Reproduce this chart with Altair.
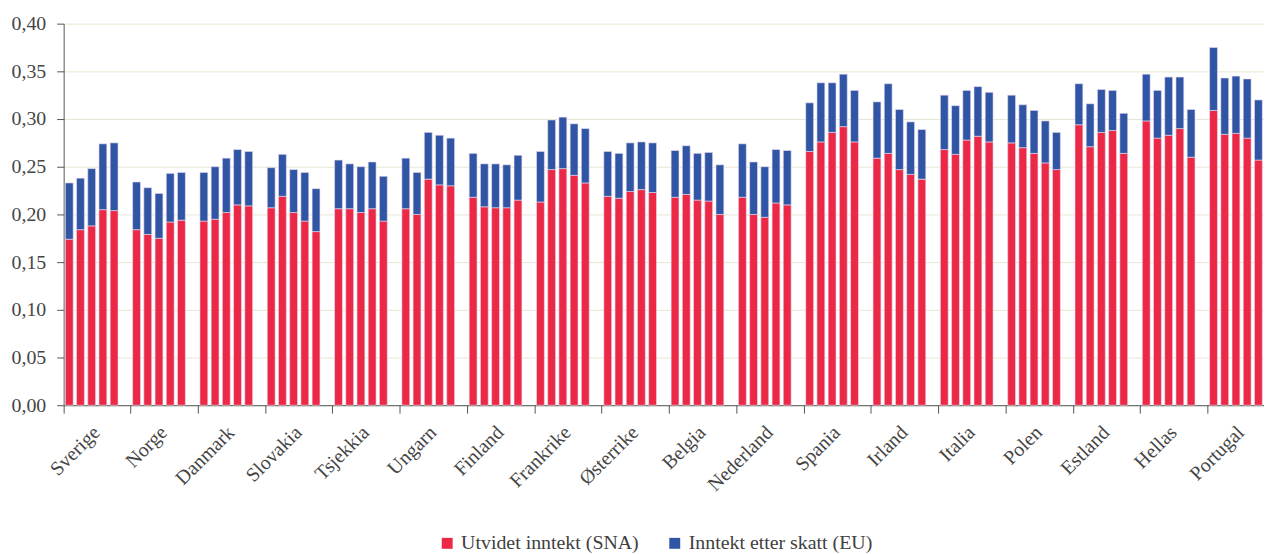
import altair as alt
import pandas as pd

countries = ["Sverige", "Norge", "Danmark", "Slovakia", "Tsjekkia", "Ungarn",
             "Finland", "Frankrike", "Østerrike", "Belgia", "Nederland", "Spania",
             "Irland", "Italia", "Polen", "Estland", "Hellas", "Portugal"]

# Utvidet inntekt (SNA) - red part (five observations per country)
sna_values = [
    [0.174, 0.184, 0.188, 0.205, 0.204],  # Sverige
    [0.184, 0.179, 0.175, 0.192, 0.194],  # Norge
    [0.193, 0.195, 0.202, 0.210, 0.209],  # Danmark
    [0.207, 0.219, 0.202, 0.193, 0.182],  # Slovakia
    [0.206, 0.206, 0.202, 0.206, 0.193],  # Tsjekkia
    [0.206, 0.200, 0.237, 0.231, 0.230],  # Ungarn
    [0.218, 0.208, 0.207, 0.207, 0.215],  # Finland
    [0.213, 0.247, 0.248, 0.241, 0.233],  # Frankrike
    [0.219, 0.217, 0.224, 0.226, 0.223],  # Østerrike
    [0.218, 0.221, 0.215, 0.214, 0.200],  # Belgia
    [0.218, 0.200, 0.197, 0.212, 0.210],  # Nederland
    [0.266, 0.276, 0.286, 0.292, 0.276],  # Spania
    [0.259, 0.264, 0.247, 0.242, 0.237],  # Irland
    [0.268, 0.263, 0.278, 0.282, 0.276],  # Italia
    [0.275, 0.270, 0.264, 0.254, 0.247],  # Polen
    [0.294, 0.271, 0.286, 0.288, 0.264],  # Estland
    [0.298, 0.280, 0.283, 0.290, 0.260],  # Hellas
    [0.309, 0.284, 0.285, 0.280, 0.257],  # Portugal
]

# Inntekt etter skatt (EU) - total bar height
eu_values = [
    [0.233, 0.238, 0.248, 0.274, 0.275],  # Sverige
    [0.234, 0.228, 0.222, 0.243, 0.244],  # Norge
    [0.244, 0.250, 0.259, 0.268, 0.266],  # Danmark
    [0.249, 0.263, 0.247, 0.244, 0.227],  # Slovakia
    [0.257, 0.253, 0.250, 0.255, 0.240],  # Tsjekkia
    [0.259, 0.244, 0.286, 0.283, 0.280],  # Ungarn
    [0.264, 0.253, 0.253, 0.252, 0.262],  # Finland
    [0.266, 0.299, 0.302, 0.295, 0.290],  # Frankrike
    [0.266, 0.264, 0.275, 0.276, 0.275],  # Østerrike
    [0.267, 0.272, 0.264, 0.265, 0.252],  # Belgia
    [0.274, 0.255, 0.250, 0.268, 0.267],  # Nederland
    [0.317, 0.338, 0.338, 0.347, 0.330],  # Spania
    [0.318, 0.337, 0.310, 0.297, 0.289],  # Irland
    [0.325, 0.314, 0.330, 0.334, 0.328],  # Italia
    [0.325, 0.315, 0.309, 0.298, 0.286],  # Polen
    [0.337, 0.316, 0.331, 0.330, 0.306],  # Estland
    [0.347, 0.330, 0.344, 0.344, 0.310],  # Hellas
    [0.375, 0.343, 0.345, 0.342, 0.320],  # Portugal
]

series_names = ["Utvidet inntekt (SNA)", "Inntekt etter skatt (EU)"]
series_colors = ["#EC2847", "#2F55A4"]

rows = []
for c, sna_list, eu_list in zip(countries, sna_values, eu_values):
    for j, (s, e) in enumerate(zip(sna_list, eu_list)):
        rows.append({"land": c, "obs": j, "serie": series_names[0], "y0": 0.0, "y1": s})
        rows.append({"land": c, "obs": j, "serie": series_names[1], "y0": s, "y1": e})
df = pd.DataFrame(rows)

FONT = "Liberation Serif"

chart = alt.Chart(df).mark_bar(stroke="#E9DDF0", strokeWidth=0.6).encode(
    x=alt.X("land:N", sort=countries, title=None,
            scale=alt.Scale(paddingInner=0.167, paddingOuter=0),
            axis=alt.Axis(bandPosition=0, labelAngle=-45, labelAlign="right",
                          labelBaseline="top", labelOffset=-2, labelPadding=9,
                          tickSize=8, tickColor="#555555", domainColor="#555555",
                          labelFont=FONT, labelFontSize=20, labelColor="#454545",
                          labelOverlap=False, labelBound=False, grid=False)),
    xOffset=alt.XOffset("obs:N", scale=alt.Scale(paddingInner=0.3, paddingOuter=0.15)),
    y=alt.Y("y0:Q", title=None,
            scale=alt.Scale(domain=[0, 0.40], nice=False),
            axis=alt.Axis(values=[0, 0.05, 0.10, 0.15, 0.20, 0.25, 0.30, 0.35, 0.40],
                          labelExpr="replace(format(datum.value, '.2f'), '.', ',')",
                          tickSize=7, labelPadding=11, tickColor="#555555",
                          domainColor="#555555", gridColor="#E6E6D4",
                          labelFont=FONT, labelFontSize=20, labelColor="#454545")),
    y2="y1:Q",
    color=alt.Color("serie:N", sort=series_names,
                    scale=alt.Scale(domain=series_names, range=series_colors),
                    legend=alt.Legend(title=None, orient="none", legendX=376, legendY=513,
                                      direction="horizontal", symbolType="square",
                                      symbolSize=121, symbolStrokeWidth=0,
                                      labelFont=FONT, labelFontSize=20, labelLimit=0,
                                      labelColor="#404040", labelOffset=4,
                                      columnPadding=26)),
).properties(
    width=1208,
    height=384,
    padding={"left": 3, "top": 4, "right": 0, "bottom": 0},
).configure_view(stroke=None)

chart.save("out.html", embed_options={"renderer": "svg", "actions": False})
